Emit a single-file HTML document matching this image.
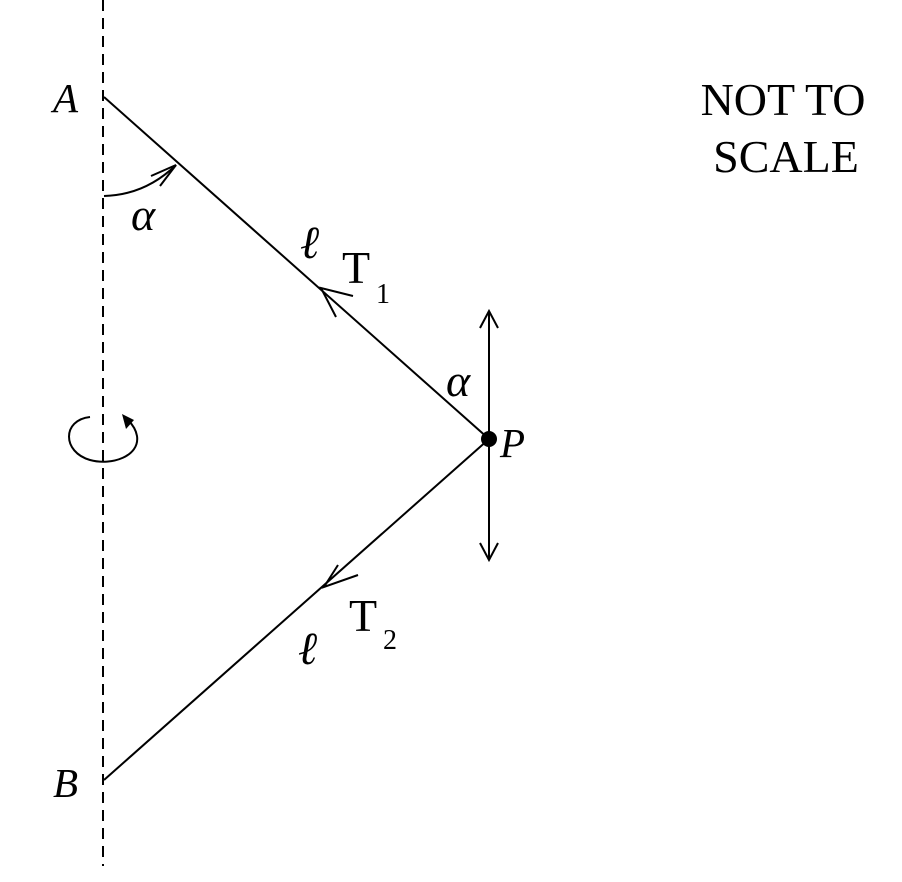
<!DOCTYPE html><html><head><style>body{margin:0;background:#fff}svg{display:block}text{font-family:"Liberation Serif",serif;fill:#000}</style></head><body>
<svg width="902" height="882" viewBox="0 0 902 882">
<line x1="103" y1="0" x2="103" y2="866" stroke="#000" stroke-width="2" stroke-dasharray="11,7"/>
<g stroke="#000" stroke-width="2" fill="none">
<line x1="104" y1="97" x2="489" y2="439"/>
<line x1="104" y1="780" x2="489" y2="439"/>
<line x1="489" y1="311" x2="489" y2="560"/>
<polyline points="480,328 489,311 498,328"/>
<polyline points="480,543 489,560 498,543"/>
<path d="M104,196 Q145,195 176,165"/>
<polyline points="151,176 176,165 160,186"/>
<polyline points="353,296 321,288 336,317"/>
<polyline points="338,565 324,587 358,575"/>
<path d="M90,417 C62,420 62,452 90,460 C112,466 140,456 137,436 C136,430 132,424 128,420"/>
</g>
<polygon points="122,414 134,420 126,429" fill="#000"/>
<circle cx="489" cy="439" r="8" fill="#000"/>
<text x="53" y="112" font-size="41" font-style="italic">A</text>
<text x="53" y="797" font-size="41" font-style="italic">B</text>
<text x="500" y="457" font-size="41" font-style="italic">P</text>
<text x="131" y="230" font-size="46" font-style="italic">α</text>
<text x="446" y="396" font-size="46" font-style="italic">α</text>
<text x="300" y="258" font-size="46" font-style="italic">ℓ</text>
<text x="298" y="664" font-size="46" font-style="italic">ℓ</text>
<text x="342" y="283" font-size="46">T</text><text x="376" y="303" font-size="28">1</text>
<text x="349" y="631" font-size="46">T</text><text x="383" y="649" font-size="28">2</text>
<text x="783" y="115" font-size="46" text-anchor="middle">NOT TO</text>
<text x="786" y="172" font-size="46" text-anchor="middle">SCALE</text>
</svg></body></html>
